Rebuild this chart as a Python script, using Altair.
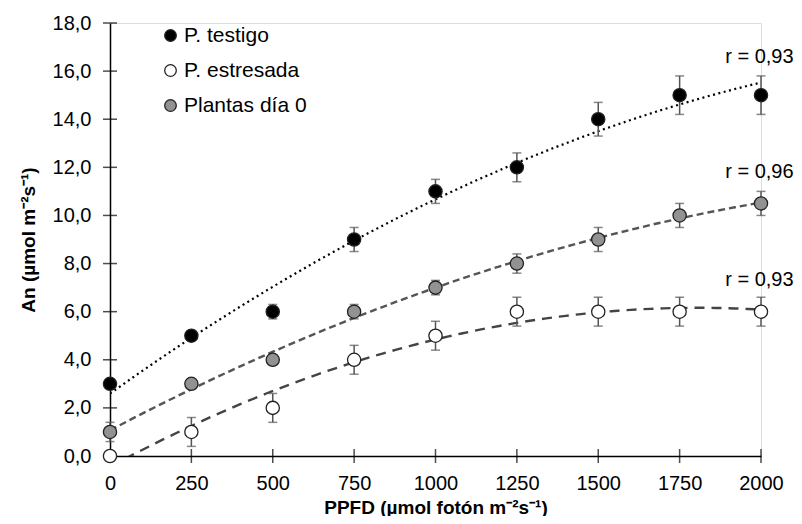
import altair as alt
import pandas as pd

ppfd = [0, 250, 500, 750, 1000, 1250, 1500, 1750, 2000]
testigo = [3, 5, 6, 9, 11, 12, 14, 15, 15]
testigo_err = [0.2, 0.2, 0.3, 0.5, 0.5, 0.6, 0.7, 0.8, 0.8]
estresada = [0, 1, 2, 4, 5, 6, 6, 6, 6]
estresada_err = [0, 0.6, 0.6, 0.6, 0.6, 0.6, 0.6, 0.6, 0.6]
dia0 = [1, 3, 4, 6, 7, 8, 9, 10, 10.5]
dia0_err = [0.4, 0.2, 0.2, 0.3, 0.3, 0.4, 0.5, 0.5, 0.5]
series = ["P. testigo", "P. estresada", "Plantas día 0"]
fills = ["#000000", "#ffffff", "#929292"]

y_ticks = [0, 2, 4, 6, 8, 10, 12, 14, 16, 18]
r_labels = ["r = 0,938", "r = 0,968", "r = 0,938"]
r_x = [1890, 1890, 1890]
r_y = [16.6, 11.8, 7.3]

FONT = "Liberation Sans"
FS = 20

rows = []
for name, vals, errs in [(series[0], testigo, testigo_err),
                         (series[1], estresada, estresada_err),
                         (series[2], dia0, dia0_err)]:
    for x, v, e in zip(ppfd, vals, errs):
        rows.append({"PPFD": x, "An": v, "lo": v - e, "hi": v + e, "serie": name})
df = pd.DataFrame(rows)

xs = alt.Scale(domain=[0, 2000], nice=False, zero=False)
ys = alt.Scale(domain=[0, 18], nice=False)

x_axis = alt.Axis(values=ppfd, format="d", ticks=False, grid=False, labelFlush=False,
                  domainColor="black", domainWidth=1.5, labelFontSize=FS,
                  labelColor="black", labelPadding=17, labelFont=FONT,
                  title="PPFD (µmol fotón m⁻²s⁻¹)", titleFont=FONT,
                  titleFontSize=19, titleFontWeight="bold", titleColor="black",
                  titlePadding=5)
y_axis = alt.Axis(values=y_ticks, ticks=False, grid=False, labelFlush=False,
                  labelExpr="replace(format(datum.value, '.1f'), '.', ',')",
                  domainColor="black", domainWidth=1.5, labelFontSize=FS,
                  labelColor="black", labelPadding=19, labelFont=FONT,
                  title="An (µmol m⁻²s⁻¹)", titleFont=FONT,
                  titleFontSize=19, titleFontWeight="bold", titleColor="black",
                  titlePadding=14)

base = alt.Chart(df)

line_styles = [
    (series[0], "#000000", [2, 3.5], 2.2),
    (series[2], "#555555", [7, 4], 2.4),
    (series[1], "#444444", [10, 7], 2.4),
]
lines = []
for name, col, dash, w in line_styles:
    lines.append(
        base.transform_filter(alt.datum.serie == name)
        .transform_regression("PPFD", "An", method="poly", order=2, extent=[0, 2000])
        .mark_line(color=col, strokeDash=dash, strokeWidth=w, clip=True)
        .encode(x=alt.X("PPFD:Q", scale=xs, axis=x_axis),
                y=alt.Y("An:Q", scale=ys, axis=y_axis))
    )

err_rule = base.mark_rule(color="#555555", strokeWidth=1.5).encode(
    x="PPFD:Q", y="lo:Q", y2="hi:Q")
err_lo = base.mark_tick(color="#555555", orient="horizontal", size=9, thickness=1.5).encode(
    x="PPFD:Q", y="lo:Q")
err_hi = base.mark_tick(color="#555555", orient="horizontal", size=9, thickness=1.5).encode(
    x="PPFD:Q", y="hi:Q")

points = base.mark_point(filled=True, size=175, stroke="#222222", strokeWidth=1.3,
                         opacity=1).encode(
    x="PPFD:Q", y="An:Q",
    fill=alt.Fill("serie:N", scale=alt.Scale(domain=series, range=fills),
                  sort=series,
                  legend=alt.Legend(title=None, orient="none", legendX=50, legendY=2,
                                    labelFont=FONT, labelFontSize=21, labelColor="black",
                                    symbolSize=135, symbolStrokeColor="#222222",
                                    symbolStrokeWidth=1.3, symbolType="circle",
                                    labelOffset=3, rowPadding=13)),
)

xt = pd.DataFrame({"t": ppfd, "z": [0] * len(ppfd)})
yt = pd.DataFrame({"t": y_ticks, "z": [0] * len(y_ticks)})
xtick = alt.Chart(xt).mark_tick(color="black", orient="vertical", size=14, thickness=1.5).encode(
    x="t:Q", y="z:Q")
ytick = alt.Chart(yt).mark_tick(color="black", orient="horizontal", size=14, thickness=1.5).encode(
    x="z:Q", y="t:Q")

rdf = pd.DataFrame({"x": r_x, "y": r_y, "t": r_labels})
rtext = alt.Chart(rdf).mark_text(align="left", baseline="middle", font=FONT,
                                 fontSize=20, color="black").encode(
    x="x:Q", y="y:Q", text="t:N")

chart = alt.layer(*lines, xtick, ytick, err_rule, err_lo, err_hi, points, rtext).properties(
    width=651, height=433,
    autosize=alt.AutoSizeParams(type="none"),
    padding={"left": 102, "top": 15, "right": 33, "bottom": 60},
).configure_view(stroke=None).configure(background="white")

chart.save("out.html", embed_options={"renderer": "svg", "actions": False})
